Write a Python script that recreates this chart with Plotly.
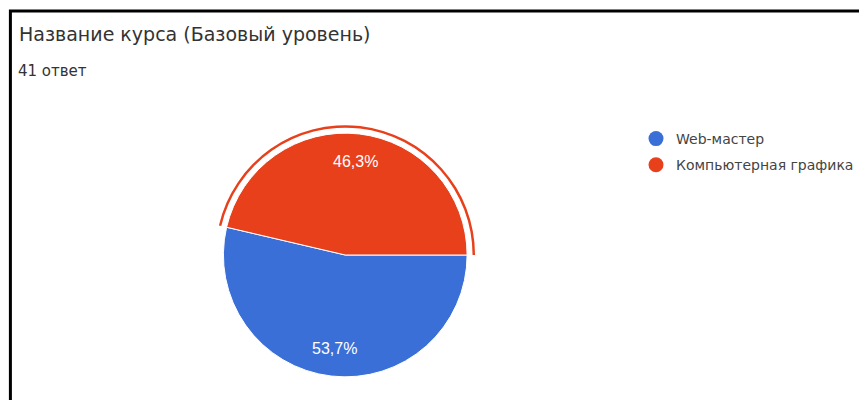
import math
import plotly.graph_objects as go

labels = ["Web-мастер", "Компьютерная графика"]
values = [22, 19]
colors = ["#3a6fd8", "#e8401a"]
title_text = "Название курса (Базовый уровень)"
subtitle_text = "41 ответ"

W, H = 859, 400
cx, cy, R, R2 = 348.5, 255, 123, 131

def dom(r):
    return dict(x=[(cx - r) / W, (cx + r) / W], y=[1 - (cy + r) / H, 1 - (cy - r) / H])

fig = go.Figure()

# highlight ring around the second slice
fig.add_trace(go.Pie(
    labels=labels, values=values, sort=False, direction="clockwise", rotation=90,
    hole=0.981, domain=dom(R2), textinfo="none", hoverinfo="skip", showlegend=False,
    marker=dict(colors=["rgba(0,0,0,0)", colors[1]], line=dict(width=0)),
))

fig.add_trace(go.Pie(
    labels=labels, values=values, sort=False, direction="clockwise", rotation=90,
    domain=dom(R), textinfo="none",
    marker=dict(colors=colors, line=dict(color="white", width=1)),
    showlegend=False,
))

# percentage labels placed at slice mid-angles
total = sum(values)
anns = []
start = 0.0
for v in values:
    frac = v / total
    mid = start - frac * 180.0  # clockwise from 3 o'clock
    start -= frac * 360.0
    r = 0.767 * R
    px = cx + r * math.cos(math.radians(mid))
    py = cy - r * math.sin(math.radians(mid))
    anns.append(dict(text=f"{frac * 100:.1f}%".replace(".", ","), x=px / W, y=1 - py / H,
                     xref="paper", yref="paper", xanchor="center", yanchor="middle",
                     showarrow=False,
                     font=dict(family="Liberation Sans, Arial, sans-serif", size=16, color="white")))

for i, (lab, col) in enumerate(zip(labels, colors)):
    fig.add_trace(go.Scatter(
        x=[None], y=[None], mode="markers", name=lab, legendgroup=f"g{i}",
        marker=dict(symbol="circle", size=15, color=col),
    ))

anns += [
    dict(text=title_text, x=17 / W, y=1 - 34 / H, xref="paper", yref="paper",
         xanchor="left", yanchor="middle", showarrow=False,
         font=dict(family="DejaVu Sans, sans-serif", size=19, color="#333")),
    dict(text=subtitle_text, x=16 / W, y=1 - 71.5 / H, xref="paper", yref="paper",
         xanchor="left", yanchor="middle", showarrow=False,
         font=dict(family="DejaVu Sans, sans-serif", size=15, color="#333")),
]

fig.update_layout(
    width=W, height=H, margin=dict(l=0, r=0, t=0, b=0),
    paper_bgcolor="white", plot_bgcolor="white",
    xaxis=dict(visible=False), yaxis=dict(visible=False),
    legend=dict(x=642 / W, y=1 - 123 / H, xanchor="left", yanchor="top",
                font=dict(family="DejaVu Sans, sans-serif", size=14, color="#444"),
                tracegroupgap=5, itemwidth=30, bgcolor="rgba(0,0,0,0)"),
    annotations=anns,
    shapes=[dict(type="rect", xref="paper", yref="paper",
                 x0=10.5 / W, x1=1.05, y0=-0.05, y1=1 - 11 / H,
                 line=dict(color="black", width=3))],
)

fig.write_html("out.html", config={"displayModeBar": False},
               post_script="document.body.style.margin='0';")
